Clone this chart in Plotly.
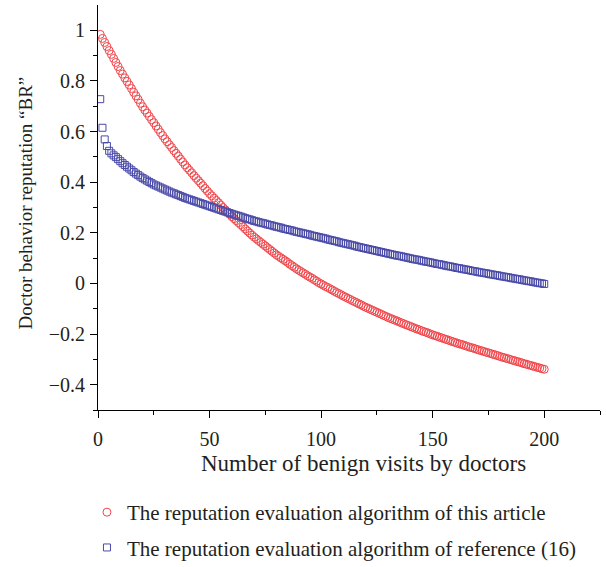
import plotly.graph_objects as go

visits = list(range(1, 201))

br_this_article = [
    0.984, 0.968, 0.952, 0.936, 0.920, 0.905, 0.889, 0.873, 0.857, 0.841,
    0.827, 0.812, 0.798, 0.784, 0.770, 0.755, 0.741, 0.727, 0.712, 0.698,
    0.685, 0.673, 0.660, 0.647, 0.635, 0.622, 0.609, 0.596, 0.584, 0.571,
    0.560, 0.548, 0.537, 0.525, 0.514, 0.503, 0.491, 0.480, 0.468, 0.457,
    0.447, 0.437, 0.426, 0.416, 0.406, 0.396, 0.386, 0.375, 0.365, 0.355,
    0.346, 0.337, 0.328, 0.319, 0.310, 0.300, 0.291, 0.282, 0.273, 0.264,
    0.256, 0.248, 0.240, 0.232, 0.224, 0.215, 0.207, 0.199, 0.191, 0.183,
    0.176, 0.169, 0.162, 0.155, 0.148, 0.141, 0.134, 0.127, 0.120, 0.113,
    0.107, 0.101, 0.095, 0.089, 0.083, 0.076, 0.070, 0.064, 0.058, 0.052,
    0.047, 0.041, 0.036, 0.030, 0.025, 0.020, 0.014, 0.009, 0.003, -0.002,
    -0.007, -0.012, -0.016, -0.021, -0.026, -0.031, -0.036, -0.040, -0.045, -0.050,
    -0.054, -0.059, -0.063, -0.068, -0.072, -0.076, -0.081, -0.085, -0.090, -0.094,
    -0.098, -0.102, -0.106, -0.110, -0.114, -0.118, -0.122, -0.126, -0.130, -0.134,
    -0.138, -0.141, -0.145, -0.148, -0.152, -0.156, -0.159, -0.163, -0.166, -0.170,
    -0.173, -0.177, -0.180, -0.183, -0.187, -0.190, -0.193, -0.196, -0.200, -0.203,
    -0.206, -0.209, -0.212, -0.215, -0.218, -0.221, -0.224, -0.227, -0.230, -0.233,
    -0.236, -0.239, -0.241, -0.244, -0.247, -0.250, -0.253, -0.255, -0.258, -0.261,
    -0.264, -0.266, -0.269, -0.272, -0.274, -0.277, -0.280, -0.282, -0.285, -0.288,
    -0.291, -0.293, -0.296, -0.298, -0.301, -0.304, -0.306, -0.309, -0.311, -0.314,
    -0.317, -0.319, -0.322, -0.324, -0.327, -0.329, -0.332, -0.334, -0.337, -0.339,
]

br_reference_16 = [
    0.728, 0.615, 0.569, 0.543, 0.524, 0.514, 0.506, 0.499, 0.491, 0.483,
    0.475, 0.468, 0.461, 0.454, 0.447, 0.440, 0.434, 0.428, 0.422, 0.416,
    0.411, 0.406, 0.401, 0.396, 0.391, 0.387, 0.383, 0.379, 0.375, 0.371,
    0.367, 0.363, 0.359, 0.356, 0.352, 0.349, 0.345, 0.342, 0.338, 0.335,
    0.332, 0.329, 0.326, 0.323, 0.320, 0.317, 0.314, 0.311, 0.308, 0.305,
    0.302, 0.299, 0.296, 0.293, 0.290, 0.287, 0.284, 0.281, 0.278, 0.275,
    0.272, 0.269, 0.267, 0.264, 0.261, 0.258, 0.255, 0.253, 0.250, 0.247,
    0.245, 0.242, 0.240, 0.238, 0.236, 0.233, 0.231, 0.229, 0.226, 0.224,
    0.222, 0.220, 0.217, 0.215, 0.213, 0.211, 0.209, 0.206, 0.204, 0.202,
    0.200, 0.198, 0.196, 0.194, 0.192, 0.189, 0.187, 0.185, 0.183, 0.181,
    0.179, 0.177, 0.174, 0.172, 0.170, 0.168, 0.166, 0.163, 0.161, 0.159,
    0.157, 0.155, 0.153, 0.151, 0.149, 0.146, 0.144, 0.142, 0.140, 0.138,
    0.136, 0.134, 0.132, 0.130, 0.128, 0.126, 0.124, 0.122, 0.120, 0.118,
    0.116, 0.114, 0.112, 0.110, 0.109, 0.107, 0.105, 0.103, 0.101, 0.099,
    0.097, 0.095, 0.094, 0.092, 0.090, 0.088, 0.086, 0.085, 0.083, 0.081,
    0.079, 0.077, 0.076, 0.074, 0.072, 0.070, 0.068, 0.067, 0.065, 0.063,
    0.061, 0.060, 0.058, 0.056, 0.055, 0.053, 0.051, 0.049, 0.048, 0.046,
    0.044, 0.043, 0.041, 0.040, 0.038, 0.036, 0.035, 0.033, 0.032, 0.030,
    0.028, 0.027, 0.025, 0.024, 0.022, 0.020, 0.019, 0.017, 0.016, 0.014,
    0.012, 0.011, 0.009, 0.008, 0.006, 0.004, 0.003, 0.001, 0.000, -0.002,
]

series_names = [
    "The reputation evaluation algorithm of this article",
    "The reputation evaluation algorithm of reference (16)",
]
x_title = "Number of benign visits by doctors"
y_title = "Doctor behavior reputation \u201cBR\u201d"

FONT = "Liberation Serif"
TXT = "#231f20"
RED = "#f0464b"
BLUE = "#4a4aa8"

fig = go.Figure()
fig.add_trace(go.Scatter(
    x=visits, y=br_this_article, mode="markers", name=series_names[0],
    legendgroup="a",
    marker=dict(symbol="circle-open", size=8, color=RED, line=dict(width=1, color=RED)),
))
fig.add_trace(go.Scatter(
    x=visits, y=br_reference_16, mode="markers", name=series_names[1],
    legendgroup="b",
    marker=dict(symbol="square-open", size=7, color=BLUE, line=dict(width=1, color=BLUE)),
))

axis_common = dict(
    showline=True, linecolor="black", linewidth=1, mirror=False,
    showgrid=False, zeroline=False,
    ticks="outside", ticklen=7, tickwidth=1, tickcolor="black",
    tickfont=dict(family=FONT, size=20, color=TXT),
)

fig.update_layout(
    width=606, height=567,
    margin=dict(l=98, r=6, t=5, b=157, autoexpand=False),
    paper_bgcolor="white", plot_bgcolor="white",
    font=dict(family=FONT, size=20, color=TXT),
    xaxis=dict(
        range=[0, 225], tickmode="array", tickvals=[0, 50, 100, 150, 200],
        minor=dict(tickvals=[25, 75, 125, 175, 225], ticklen=4, tickcolor="black", ticks="outside"),
        ticklabelstandoff=4,
        **axis_common,
    ),
    yaxis=dict(
        range=[-0.5, 1.1], tickmode="array",
        tickvals=[-0.4, -0.2, 0, 0.2, 0.4, 0.6, 0.8, 1],
        ticktext=["\u22120.4", "\u22120.2", "0", "0.2", "0.4", "0.6", "0.8", "1"],
        minor=dict(tickvals=[-0.5, -0.3, -0.1, 0.1, 0.3, 0.5, 0.7, 0.9], ticklen=4, tickcolor="black", ticks="outside"),
        ticklabelstandoff=1,
        **axis_common,
    ),
    annotations=[
        dict(text=x_title, xref="paper", yref="paper", x=0.528, y=-0.1333,
             xanchor="center", yanchor="middle", showarrow=False,
             font=dict(family=FONT, size=23, color=TXT)),
        dict(text=y_title, xref="paper", yref="paper", x=-0.1454, y=0.51,
             xanchor="center", yanchor="middle", showarrow=False, textangle=-90,
             font=dict(family=FONT, size=19, color=TXT)),
    ],
    showlegend=True,
    legend=dict(
        x=-0.022, xanchor="left", y=-0.2025, yanchor="top",
        traceorder="grouped", tracegroupgap=5,
        font=dict(family=FONT, size=21, color=TXT),
        bgcolor="rgba(0,0,0,0)",
    ),
)

fig.write_html("out.html")
